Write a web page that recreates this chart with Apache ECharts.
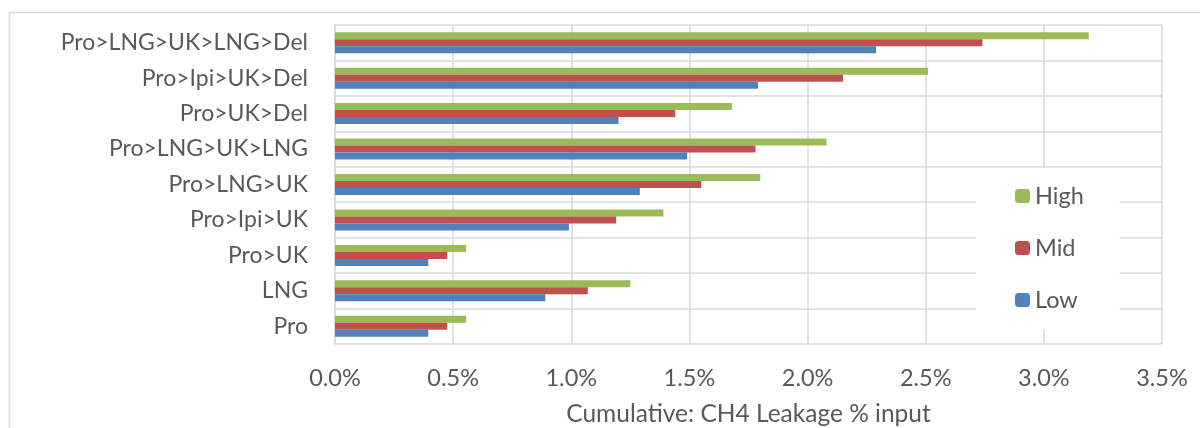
<!DOCTYPE html>
<html>
<head>
<meta charset="utf-8">
<script src="https://cdn.jsdelivr.net/npm/echarts@6/dist/echarts.min.js"></script>
<style>
html,body{margin:0;padding:0;background:#fff;}
#chart{width:1200px;height:428px;}
</style>
</head>
<body>
<div id="chart"></div>
<script>
const categories = ['Pro>LNG>UK>LNG>Del','Pro>Ipi>UK>Del','Pro>UK>Del','Pro>LNG>UK>LNG','Pro>LNG>UK','Pro>Ipi>UK','Pro>UK','LNG','Pro'];
const highValues = [3.19, 2.51, 1.68, 2.08, 1.80, 1.39, 0.555, 1.25, 0.555];
const midValues  = [2.74, 2.15, 1.44, 1.78, 1.55, 1.19, 0.475, 1.07, 0.475];
const lowValues  = [2.29, 1.79, 1.20, 1.49, 1.29, 0.99, 0.395, 0.89, 0.395];
const xTicks = [0, 0.5, 1.0, 1.5, 2.0, 2.5, 3.0, 3.5];
const axisTitle = 'Cumulative: CH4 Leakage % input';

const FONT = 'Lato';
const TXT = '#595959';
const GRID = '#D9D9D9';

const chart = echarts.init(document.getElementById('chart'));
chart.setOption({
  animation: false,
  backgroundColor: '#fff',
  textStyle: {fontFamily: FONT},
  graphic: [{
    type: 'rect', left: 7, top: 10, z: -1,
    shape: {width: 1260, height: 500},
    style: {fill: 'none', stroke: GRID, lineWidth: 1.5}
  }],
  grid: {left: 335, right: 38, top: 25, bottom: 84, containLabel: false, outerBoundsMode: 'none'},
  legend: {
    orient: 'vertical',
    left: 976, top: 168,
    backgroundColor: '#fff',
    padding: [16, 36, 17, 39],
    itemWidth: 15, itemHeight: 14,
    itemGap: 28,
    data: ['High', 'Mid', 'Low'],
    textStyle: {fontFamily: FONT, fontSize: 23.5, color: TXT, lineHeight: 24},
    z: 10
  },
  xAxis: {
    type: 'value',
    min: xTicks[0], max: xTicks[xTicks.length - 1], interval: 0.5,
    axisLine: {show: false},
    axisTick: {show: false},
    splitLine: {show: true, lineStyle: {color: GRID, width: 1.5}},
    axisLabel: {
      margin: 22, fontSize: 23.5, color: TXT, fontFamily: FONT,
      formatter: v => v.toFixed(1) + '%'
    },
    name: axisTitle,
    nameLocation: 'middle',
    nameGap: 58,
    nameTextStyle: {fontSize: 24.5, color: TXT, fontFamily: FONT}
  },
  yAxis: {
    type: 'category',
    data: categories,
    inverse: true,
    axisLine: {show: true, lineStyle: {color: GRID, width: 1.5}},
    axisTick: {show: false},
    splitLine: {show: true, lineStyle: {color: GRID, width: 1.5}},
    axisLabel: {margin: 27, fontSize: 23, color: TXT, fontFamily: FONT}
  },
  series: [
    {name: 'High', type: 'bar', data: highValues, barWidth: 7, barGap: '0%', itemStyle: {color: '#9BBB59'}},
    {name: 'Mid', type: 'bar', data: midValues, barWidth: 7, barGap: '0%', itemStyle: {color: '#C0504D'}},
    {name: 'Low', type: 'bar', data: lowValues, barWidth: 7, barGap: '0%', itemStyle: {color: '#4F81BD'}}
  ]
});
</script>
</body>
</html>
